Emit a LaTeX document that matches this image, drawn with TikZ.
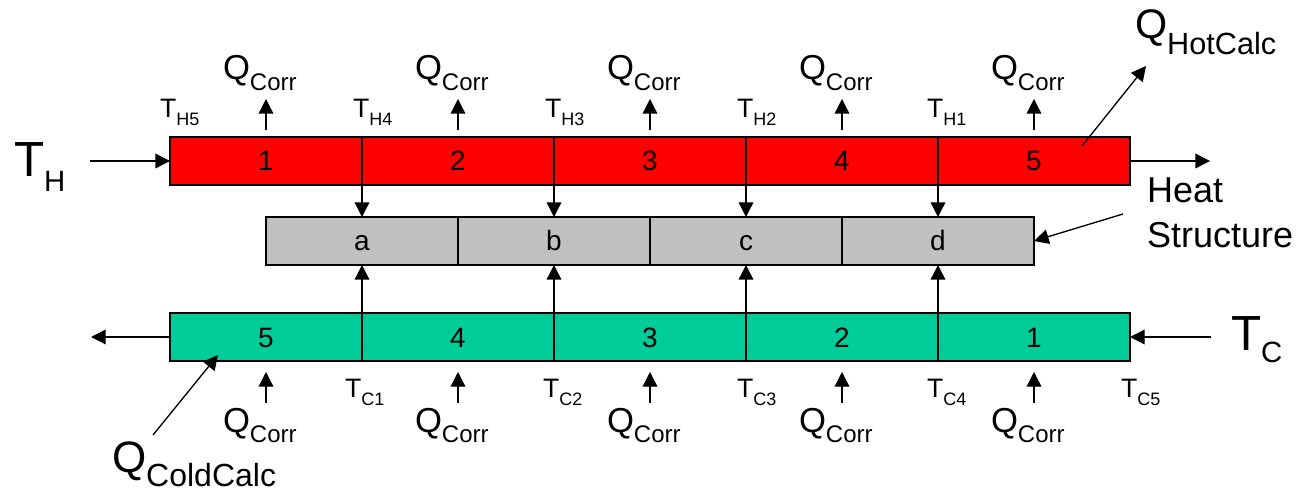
\documentclass[tikz,border=0pt]{standalone}
\usepackage{fontspec}
\setmainfont{Liberation Sans}
\usetikzlibrary{arrows.meta}
\definecolor{hotred}{HTML}{FF0000}
\definecolor{coldgreen}{HTML}{00CC99}
\definecolor{wallgray}{HTML}{C0C0C0}

% main symbol, then a lowered subscript: {main size}{sub size}{drop}{main}{sub}
\newcommand\sublabel[5]{{\fontsize{#1}{#1}\selectfont #4}{\fontsize{#2}{#2}\selectfont\raisebox{-#3}{#5}}}
\newcommand\qcorr{\sublabel{26pt}{18pt}{8pt}{Q}{Corr}}
\newcommand\tsmall[2]{\sublabel{20pt}{13.5pt}{6pt}{T}{#1#2}}

\begin{document}
\begin{tikzpicture}[x=0.75pt,y=-0.75pt,
  cell/.style={draw=black,line width=1pt,minimum width=144pt,minimum height=36pt,
    inner sep=0pt,outer sep=0pt,text height=15pt,text depth=0pt,
    font=\fontsize{21pt}{21pt}\selectfont},
  hot/.style={cell,fill=hotred},
  wall/.style={cell,fill=wallgray},
  cold/.style={cell,fill=coldgreen},
  flow/.style={line width=1pt,-{Triangle[length=11pt,width=11pt]}},
  txt/.style={inner sep=0pt,outer sep=0pt,anchor=base west},
]
\useasboundingbox (0,0) rectangle (1298,491);

% hot stream cells
\foreach \i/\x in {1/266,2/458,3/650,4/842,5/1034}
  \node[hot] (h\i) at (\x,161) {\i};
% heat structure cells
\foreach \l/\x in {a/362,b/554,c/746,d/938}
  \node[wall] (w\l) at (\x,241) {\l};
% cold stream cells
\foreach \i/\x in {5/266,4/458,3/650,2/842,1/1034}
  \node[cold] (c\i) at (\x,337) {\i};

% heat flow into the structure
\foreach \i/\l in {1/a,2/b,3/c,4/d}
  \draw[flow] (h\i.south east) -- (w\l.north);
\foreach \i/\l in {5/a,4/b,3/c,2/d}
  \draw[flow] (c\i.north east) -- (w\l.south);

% correction heat on each cell
\foreach \i in {1,...,5}
  \draw[flow] ([yshift=5.25pt]h\i.north) -- +(0,-31);
\foreach \i in {1,...,5}
  \draw[flow] ([yshift=-31.5pt]c\i.south) -- +(0,-31);

\foreach \n/\x in {1/223,2/415,3/607,4/799,5/991}
  \node[txt] (qh\n) at (\x,80) {\qcorr};
\foreach \n/\x in {1/223,2/415,3/607,4/799,5/991}
  \node[txt] (qc\n) at (\x,432) {\sublabel{26pt}{18pt}{7.5pt}{Q}{Corr}};

% node temperatures
\node[txt] (th5) at (160,118) {\tsmall{H}{5}};
\node[txt] (th4) at (353,118) {\tsmall{H}{4}};
\node[txt] (th3) at (545,118) {\tsmall{H}{3}};
\node[txt] (th2) at (737,118) {\tsmall{H}{2}};
\node[txt] (th1) at (927,118) {\tsmall{H}{1}};
\node[txt] (tc1) at (345,397) {\tsmall{C}{1}};
\node[txt] (tc2) at (543,397) {\tsmall{C}{2}};
\node[txt] (tc3) at (737,397) {\tsmall{C}{3}};
\node[txt] (tc4) at (927,397) {\tsmall{C}{4}};
\node[txt] (tc5) at (1121,397) {\tsmall{C}{5}};

% inlet and outlet streams
\node[txt] (thot) at (14,177) {\sublabel{37pt}{22pt}{11.25pt}{T}{H}};
\coordinate (hin) at (90,161);
\coordinate (hout) at (1210,161);
\draw[flow] (hin) -- (h1.west);
\draw[flow] (h5.east) -- (hout);

\node[txt] (tcold) at (1231,350) {\sublabel{37pt}{22pt}{9pt}{T}{C}};
\coordinate (cin) at (1211,337);
\coordinate (cout) at (91,337);
\draw[flow] (cin) -- (c1.east);
\draw[flow] (c5.west) -- (cout);

% calculated heat totals
\node[txt] (qhot) at (1135,39) {\sublabel{31pt}{23pt}{12pt}{Q}{HotCalc}};
\coordinate (qhs) at (1082,146);
\coordinate (qhe) at (1146,66);
\draw[flow] (qhs) -- (qhe);

\node[txt] (qcold) at (112,472) {\sublabel{33pt}{24pt}{11pt}{Q}{ColdCalc}};
\coordinate (qcs) at (153,435);
\coordinate (qce) at (218,355);
\draw[flow] (qcs) -- (qce);

% heat structure callout
\node[txt,font=\fontsize{27pt}{27pt}\selectfont] (heat) at (1147,203) {Heat};
\node[txt,font=\fontsize{27pt}{27pt}\selectfont] (structure) at (1147,248) {Structure};
\coordinate (hss) at (1123,214);
\draw[flow] (hss) -- (wd.east);
\end{tikzpicture}
\end{document}
